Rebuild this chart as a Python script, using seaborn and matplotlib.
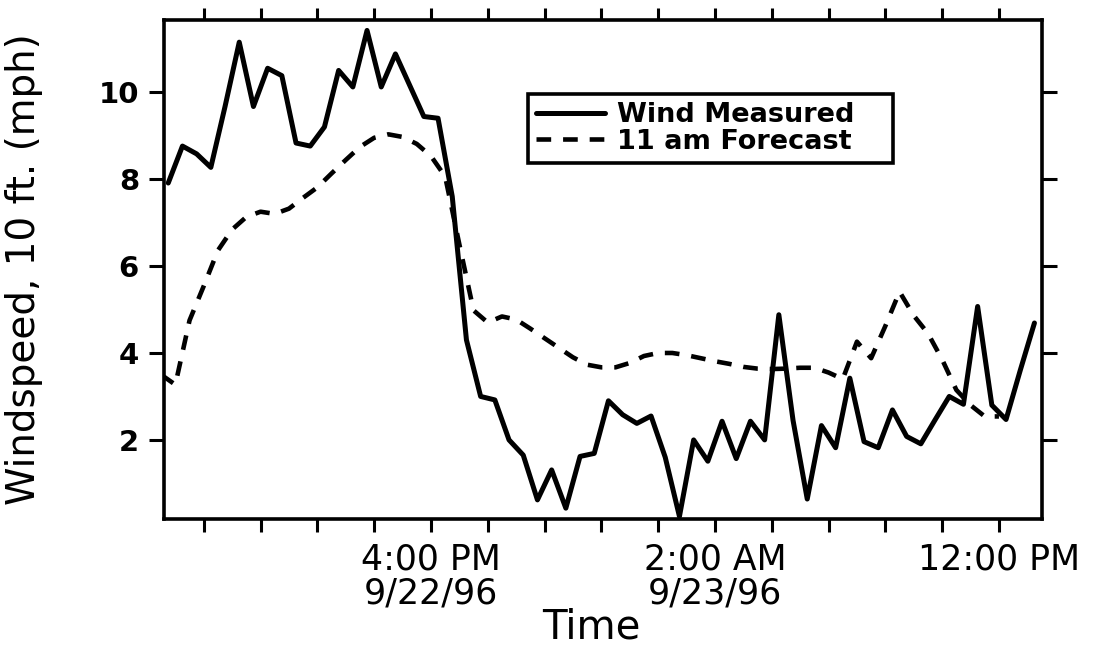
import matplotlib
matplotlib.use("Agg")
import matplotlib.pyplot as plt
import matplotlib.dates as mdates
import pandas as pd
import seaborn as sns

# ---- data ----
measured_start = "1996-09-22 06:45"
measured_mph = [7.91, 8.76, 8.58, 8.27, 9.67, 11.15, 9.67, 10.55, 10.38, 8.83,
                8.76, 9.20, 10.50, 10.12, 11.42, 10.12, 10.88, 10.16, 9.44, 9.40,
                7.60, 4.30, 3.00, 2.92, 2.00, 1.65, 0.62, 1.31, 0.43, 1.62,
                1.69, 2.90, 2.58, 2.38, 2.55, 1.60, 0.24, 2.00, 1.51, 2.43,
                1.57, 2.43, 2.00, 4.88, 2.45, 0.64, 2.33, 1.82, 3.42, 1.96,
                1.82, 2.69, 2.08, 1.91, 2.46, 3.00, 2.82, 5.07, 2.80, 2.47,
                3.60, 4.69]

forecast_start = "1996-09-22 06:30"
forecast_mph = [3.50, 3.27, 4.75, 5.54, 6.36, 6.84, 7.13, 7.25, 7.20, 7.32,
                7.57, 7.81, 8.13, 8.44, 8.74, 8.95, 9.03, 8.97, 8.81, 8.53,
                8.06, 6.50, 4.98, 4.70, 4.84, 4.77, 4.56, 4.34, 4.12, 3.90,
                3.73, 3.67, 3.67, 3.77, 3.93, 4.00, 4.00, 3.95, 3.88, 3.81,
                3.75, 3.68, 3.64, 3.63, 3.64, 3.66, 3.66, 3.55, 3.40, 4.26,
                3.88, 4.62, 5.41, 4.86, 4.45, 3.85, 3.15, 2.80, 2.54, 2.54]

y_ticks = [2, 4, 6, 8, 10]
x_major_labels = {"1996-09-22 16:00": "4:00 PM\n9/22/96",
                  "1996-09-23 02:00": "2:00 AM\n9/23/96",
                  "1996-09-23 12:00": "12:00 PM"}
series_names = ["Wind Measured", "11 am Forecast"]

# ---- frames ----
measured = pd.DataFrame({
    "Time": pd.date_range(measured_start, periods=len(measured_mph), freq="30min"),
    "mph": measured_mph})
forecast = pd.DataFrame({
    "Time": pd.date_range(forecast_start, periods=len(forecast_mph), freq="30min"),
    "mph": forecast_mph})

sns.set_theme(style="ticks")
plt.rcParams["font.family"] = ["DejaVu Sans"]
plt.rcParams["text.color"] = "black"
plt.rcParams["axes.labelcolor"] = "black"
plt.rcParams["xtick.color"] = "black"
plt.rcParams["ytick.color"] = "black"

fig = plt.figure(figsize=(11.05, 6.56), dpi=100)
ax = fig.add_axes([0.1484, 0.2088, 0.7946, 0.7607])

sns.lineplot(data=measured, x="Time", y="mph", ax=ax, color="black",
             linewidth=3.6, label=series_names[0])
sns.lineplot(data=forecast, x="Time", y="mph", ax=ax, color="black",
             linewidth=3.3, linestyle=(0, (3.2, 2.6)), label=series_names[1])

# axis limits
ax.set_xlim(pd.Timestamp("1996-09-22 06:36"), pd.Timestamp("1996-09-23 13:31"))
ax.set_ylim(0.18, 11.66)

# x ticks every 2 hours, labels only at a few
tick_times = pd.date_range("1996-09-22 08:00", "1996-09-23 12:00", freq="2h")
ax.set_xticks(mdates.date2num(tick_times))
labels = []
for t in tick_times:
    labels.append(x_major_labels.get(t.strftime("%Y-%m-%d %H:%M"), ""))
ax.set_xticklabels(labels, fontsize=25, linespacing=0.98)

ax.set_yticks(y_ticks)
ax.set_yticklabels([str(v) for v in y_ticks], fontsize=21, fontweight="bold")

ax.tick_params(axis="both", which="both", direction="out", width=2.2,
               top=True, right=True, labeltop=False, labelright=False)
ax.tick_params(axis="x", length=9, pad=8)
ax.tick_params(axis="y", length=11, pad=7)

for s in ax.spines.values():
    s.set_visible(True)
    s.set_linewidth(2.6)
    s.set_color("black")

ax.set_xlabel("Time", fontsize=29, labelpad=0)
ax.xaxis.set_label_coords(0.487, -0.178, transform=ax.transAxes)
ax.xaxis.label.set_verticalalignment("top")
ax.set_ylabel("Windspeed, 10 ft. (mph)", fontsize=28, labelpad=40)

leg = ax.legend(loc="upper left", bbox_to_anchor=(0.4146, 0.0, 0.4157, 0.8517),
                mode="expand", prop={"size": 19.5, "weight": "bold"},
                frameon=True, fancybox=False,
                handlelength=2.55, handletextpad=0.45, borderpad=0.3,
                labelspacing=0.03, borderaxespad=0)
leg.get_frame().set_edgecolor("black")
leg.get_frame().set_linewidth(2.6)
leg.get_frame().set_alpha(1)

fig.savefig("out.png", dpi=100, facecolor="white")
